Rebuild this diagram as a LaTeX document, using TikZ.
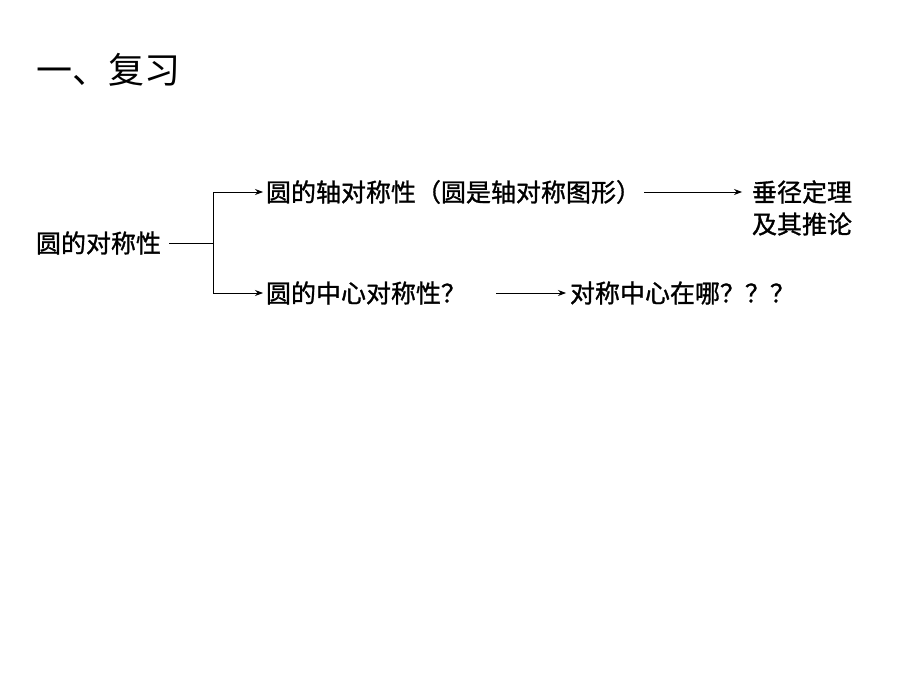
\documentclass[tikz,border=0pt]{standalone}
\usepackage{fontspec}
\newfontfamily\cjk[FakeBold=1.2]{Noto Sans CJK SC}
\newfontfamily\cjktitle{Noto Sans CJK SC}
\usetikzlibrary{arrows.meta}
\begin{document}
\begin{tikzpicture}[x=1pt, y=-1pt, inner sep=0, outer sep=0, line width=0.8pt,
    font=\cjk\fontsize{25}{30}\selectfont,
    >={Stealth[length=8pt, width=6pt]}]
  \useasboundingbox (0,0) rectangle (920,690);

  \node[anchor=west, font=\cjktitle\fontsize{36}{40}\selectfont] (title) at (36,70) {一、复习};

  \node[anchor=west] (root) at (36,243) {圆的对称性};
  \coordinate (fork) at (213,243);

  \node[anchor=west] (axial) at (266,192) {圆的轴对称性（圆是轴对称图形）};
  \node[anchor=west] (thm1) at (752,192) {垂径定理};
  \node[anchor=west] (thm2) at (752,224) {及其推论};

  \node[anchor=west] (central) at (266,293) {圆的中心对称性？};
  \node[anchor=west] (where) at (570,293) {对称中心在哪？？？};

  \draw ([xshift=8pt]root.east) -- (fork);
  \draw[->] (fork) |- ([xshift=-3pt]axial.west);
  \draw[->] (fork) |- ([xshift=-3pt]central.west);
  \draw[->] ([xshift=3pt]axial.east) -- ([xshift=-10pt]thm1.west);
  \draw[->] ([xshift=30pt]central.east) -- ([xshift=-4pt]where.west);
\end{tikzpicture}
\end{document}
